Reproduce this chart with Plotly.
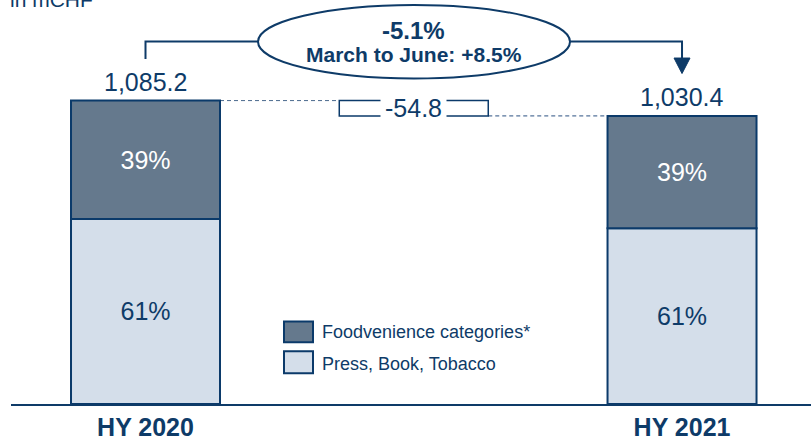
import plotly.graph_objects as go

# ---- data (mCHF) ----
periods = ["HY 2020", "HY 2021"]
totals = [1085.2, 1030.4]
segment_names = ["Press, Book, Tobacco", "Foodvenience categories*"]
segment_shares = [61, 39]          # percent of each half-year total
change_pct = "-5.1%"
change_note = "March to June: +8.5%"
unit_label = "in mCHF"

# ---- style ----
FONT = "Liberation Sans, Arial, sans-serif"
NAVY = "#0e3b68"
OUTLINE = "#0b3a6a"
DARK_FILL = "#65798d"
LIGHT_FILL = "#d4deea"
fills = [LIGHT_FILL, DARK_FILL]
text_colors = [NAVY, "white"]
BAR_W = 0.2777

# plot area geometry
W, H = 811, 441
M_L, M_B = 11, 35
X_RANGE = [-0.2507, 1.2404]
Y_RANGE = [0, 1445]

x_pos = [0, 1]
delta = round(totals[1] - totals[0], 1)

fig = go.Figure()

# stacked segments (explicit bases, overlay mode)
base = [0.0, 0.0]
for name, share, fill, tc in zip(segment_names, segment_shares, fills, text_colors):
    vals = [t * share / 100 for t in totals]
    fig.add_trace(go.Bar(
        x=x_pos, y=vals, base=list(base), width=BAR_W, name=name,
        marker=dict(color=fill, line=dict(color=OUTLINE, width=2)),
        text=[f"{share}%"] * len(totals), textposition="inside",
        insidetextanchor="middle", textangle=0,
        textfont=dict(family=FONT, size=25, color=tc),
        showlegend=False, hoverinfo="skip",
    ))
    base = [b + v for b, v in zip(base, vals)]

# bridge bar between the two totals
fig.add_trace(go.Bar(
    x=[0.5], y=[delta], base=[totals[0]], width=BAR_W,
    marker=dict(color="white", line=dict(color=OUTLINE, width=1.5)),
    showlegend=False, hoverinfo="skip",
))

annotations = []
shapes = []

# totals above bars
for x, t in zip(x_pos, totals):
    annotations.append(dict(
        x=x, y=t, xref="x", yref="y", text=f"{t:,.1f}", showarrow=False,
        yanchor="bottom", yshift=3,
        font=dict(family=FONT, size=25, color=NAVY),
    ))

# bridge value label
annotations.append(dict(
    x=0.5, y=(totals[0] + totals[1]) / 2, xref="x", yref="y",
    text=f"{delta:,.1f}", showarrow=False, yanchor="middle",
    bgcolor="white", borderpad=4,
    font=dict(family=FONT, size=25, color=NAVY),
))

# dashed connectors
shapes.append(dict(type="line", xref="x", yref="y",
                   x0=x_pos[0] + BAR_W / 2, x1=0.5 - BAR_W / 2, y0=totals[0], y1=totals[0],
                   line=dict(color="#4a6a8e", width=1, dash="4px,3px"), layer="below"))
shapes.append(dict(type="line", xref="x", yref="y",
                   x0=0.5 + BAR_W / 2, x1=x_pos[1] - BAR_W / 2, y0=totals[1], y1=totals[1],
                   line=dict(color="#2a5080", width=1, dash="4px,3px"), layer="below"))

# growth bracket with ellipse
top = max(totals)
bracket_y = top + 211
ell_x0, ell_x1 = 0.2097, 0.7912
ell_y0, ell_y1 = top + 79, top + 342
shapes.append(dict(type="path", xref="x", yref="y",
                   path=f"M {x_pos[0]},{totals[0] + 149} L {x_pos[0]},{bracket_y} L {ell_x0},{bracket_y}",
                   line=dict(color=NAVY, width=2)))
arrow_base = totals[1] + 207
arrow_tip = totals[1] + 151.5
shapes.append(dict(type="path", xref="x", yref="y",
                   path=f"M {ell_x1},{bracket_y} L {x_pos[1]},{bracket_y} L {x_pos[1]},{arrow_base}",
                   line=dict(color=NAVY, width=2)))
hw = 0.0149
shapes.append(dict(type="path", xref="x", yref="y",
                   path=f"M {x_pos[1] - hw},{arrow_base} L {x_pos[1] + hw},{arrow_base} L {x_pos[1]},{arrow_tip} Z",
                   fillcolor=NAVY, line=dict(color=NAVY, width=1)))
shapes.append(dict(type="circle", xref="x", yref="y",
                   x0=ell_x0, x1=ell_x1, y0=ell_y0, y1=ell_y1,
                   fillcolor="white", line=dict(color=NAVY, width=2)))
annotations.append(dict(x=0.5, y=top + 250, xref="x", yref="y", text=f"<b>{change_pct}</b>",
                        showarrow=False, yanchor="middle",
                        font=dict(family=FONT, size=24, color=NAVY)))
annotations.append(dict(x=0.5, y=top + 164, xref="x", yref="y", text=f"<b>{change_note}</b>",
                        showarrow=False, yanchor="middle",
                        font=dict(family=FONT, size=21, color=NAVY)))

# unit label
annotations.append(dict(x=-3 / 800, y=(406 - 13) / 406, xref="paper", yref="paper",
                        text=unit_label, showarrow=False, xanchor="left", yanchor="bottom",
                        font=dict(family=FONT, size=21, color=NAVY)))

# legend (top segment first)
def px(xp):
    return (xp - M_L) / (W - M_L)

def py(yp):
    return (H - M_B - yp) / (H - M_B)

legend_rows = [(segment_names[1], DARK_FILL, 323, 344, 334),
               (segment_names[0], LIGHT_FILL, 353, 375, 366)]
for name, fill, y_top, y_bot, y_txt in legend_rows:
    shapes.append(dict(type="rect", xref="paper", yref="paper",
                       x0=px(284), x1=px(313), y0=py(y_bot), y1=py(y_top),
                       fillcolor=fill, line=dict(color=OUTLINE, width=2)))
    annotations.append(dict(x=px(320), y=py(y_txt), xref="paper", yref="paper",
                            text=name, showarrow=False, xanchor="left", yanchor="middle",
                            font=dict(family=FONT, size=18, color=NAVY)))

fig.update_layout(
    width=W, height=H,
    margin=dict(l=M_L, r=0, t=0, b=M_B),
    paper_bgcolor="white", plot_bgcolor="white",
    barmode="overlay",
    showlegend=False,
    shapes=shapes, annotations=annotations,
    xaxis=dict(range=X_RANGE, tickvals=x_pos, ticktext=periods,
               tickfont=dict(family=FONT, size=25, color=NAVY, weight="bold"),
               showline=True, linecolor=NAVY, linewidth=2,
               showgrid=False, zeroline=False, ticks="", fixedrange=True),
    yaxis=dict(range=Y_RANGE, visible=False, showgrid=False, zeroline=False, fixedrange=True),
)

fig.write_html("out.html", config={"displayModeBar": False})
